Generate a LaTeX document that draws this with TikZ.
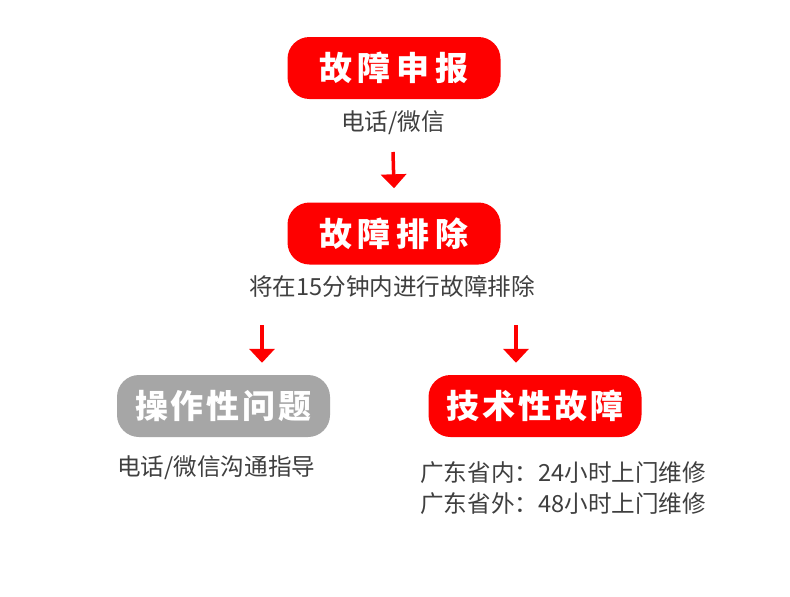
\documentclass[tikz,border=0pt]{standalone}
\usepackage{fontspec}
\setmainfont{Noto Sans CJK SC}
\usepackage{xcolor}
\usetikzlibrary{arrows.meta,positioning}
\definecolor{fred}{HTML}{FE0000}
\definecolor{fgray}{HTML}{A6A6A6}
\definecolor{ftext}{HTML}{3F3F3F}
\newcommand\tgap{\hspace{6pt}}
\newcommand\tgapb{\hspace{3pt}}

\begin{document}
\begin{tikzpicture}[x=1pt, y=-1pt,
      tag/.style={rectangle, rounded corners=22pt, fill=fred, text=white,
      minimum width=213pt, minimum height=62pt, inner sep=0pt,
      font=\fontsize{33pt}{36pt}\selectfont\bfseries},
      note/.style={inner sep=0pt, text=ftext, align=left,
      font=\fontsize{23.6pt}{31pt}\selectfont},
      arr/.style={draw=fred, line width=3.5pt, -{Triangle[width=25pt,length=14pt]}}]
    \useasboundingbox[fill=white] (0,0) rectangle (790,597);
    % top of the chain
    \node[tag] (report) at (394,68) {故\tgap 障\tgap 申\tgap 报};
    \node[note] (reportnote) at (393,123) {电话/微信};
    \node[tag] (fix) at (394,233.5) {故\tgap 障\tgap 排\tgap 除};
    \node[note] (fixnote) at (392,286) {将在15分钟内进行故障排除};
    % two branches
    \node[tag, fill=fgray] (oper) at (223.5,406) {操\tgapb 作\tgapb 性\tgapb 问\tgapb 题};
    \node[tag] (tech) at (535,406) {技\tgapb 术\tgapb 性\tgapb 故\tgapb 障};
    \node[note, anchor=west] (opernote) at (117,468) {电话/微信沟通指导};
    \node[note, anchor=west] (technote) at (420,488) {广东省内：24小时上门维修\\广东省外：48小时上门维修};
    \draw[arr] ([yshift=-29pt]reportnote.center) -- ([yshift=14pt]fix.north);
    \draw[arr] ([shift={(-130,39)}]fixnote.center) -- ([shift={(38.5,-12)}]oper.north);
    \draw[arr] ([shift={(124,39)}]fixnote.center) -- ([shift={(-19,-12)}]tech.north);
  \end{tikzpicture}
\end{document}
